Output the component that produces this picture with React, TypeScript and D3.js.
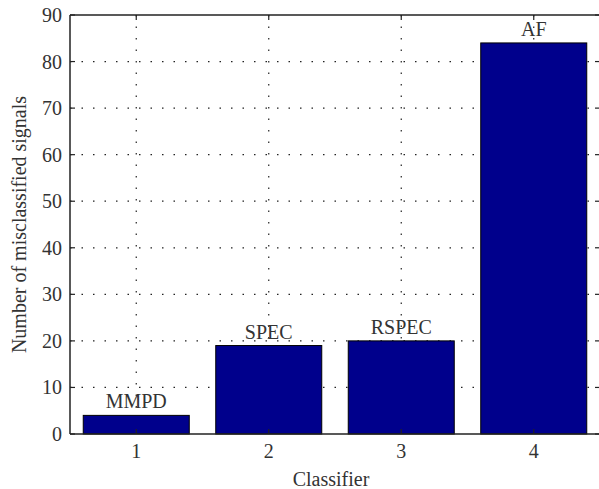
import React from "react";
import * as d3 from "d3";

const categories = [1, 2, 3, 4];
const barLabels = ["MMPD", "SPEC", "RSPEC", "AF"];
const values = [4, 19, 20, 84];
const yTicks = [0, 10, 20, 30, 40, 50, 60, 70, 80, 90];

const W = 599;
const H = 489;
const left = 70;
const right = 600;
const top = 15;
const bottom = 434;
const FONT = "'Liberation Serif', 'Times New Roman', serif";
const TEXT = "#333";
const AX = "#222";

export default function App() {
  const x = d3.scaleLinear().domain([0.5, 4.5]).range([left, right]);
  const y = d3.scaleLinear().domain([0, 90]).range([bottom, top]);
  const bw = x(1.8) - x(1);
  const dash = "1.5 10";
  return (
    <svg
      width={W}
      height={H}
      style={{ position: "absolute", left: 0, top: 0, background: "#fff" }}
      fontFamily={FONT}
    >
      <rect x={0} y={0} width={W} height={H} fill="#fff" />
      {/* grid */}
      {yTicks.slice(1, -1).map((t) => (
        <line key={"gy" + t} x1={left} x2={right} y1={y(t)} y2={y(t)} stroke="#222" strokeWidth={1.2} strokeDasharray={dash} />
      ))}
      {categories.map((c) => (
        <line key={"gx" + c} x1={x(c)} x2={x(c)} y1={top} y2={bottom} stroke="#222" strokeWidth={1.2} strokeDasharray={dash} />
      ))}
      {/* bars */}
      {categories.map((c, i) => (
        <rect
          key={"b" + c}
          x={x(c) - bw / 2}
          y={y(values[i])}
          width={bw}
          height={y(0) - y(values[i])}
          fill="#00008C"
          stroke="#000"
          strokeWidth={1}
        />
      ))}
      {categories.map((c, i) => (
        <text key={"l" + c} x={x(c)} y={y(values[i]) - 7} textAnchor="middle" fontSize={20} fill={TEXT}>
          {barLabels[i]}
        </text>
      ))}
      {/* axes box */}
      <line x1={left} x2={left} y1={top} y2={bottom} stroke={AX} strokeWidth={1.5} />
      <line x1={left} x2={right} y1={bottom} y2={bottom} stroke={AX} strokeWidth={1.5} />
      <line x1={left} x2={right} y1={top} y2={top} stroke={AX} strokeWidth={1.5} />
      <line x1={right} x2={right} y1={top} y2={bottom} stroke={AX} strokeWidth={1.5} />
      {/* ticks */}
      {yTicks.map((t) => (
        <g key={"yt" + t}>
          <line x1={left} x2={left + 5} y1={y(t)} y2={y(t)} stroke={AX} strokeWidth={1.2} />
          <line x1={right - 5} x2={right} y1={y(t)} y2={y(t)} stroke={AX} strokeWidth={1.2} />
          <text x={left - 8} y={y(t)} dy="0.35em" textAnchor="end" fontSize={20} fill={TEXT}>
            {t}
          </text>
        </g>
      ))}
      {categories.map((c) => (
        <g key={"xt" + c}>
          <line x1={x(c)} x2={x(c)} y1={bottom} y2={bottom - 5} stroke={AX} strokeWidth={1.2} />
          <line x1={x(c)} x2={x(c)} y1={top} y2={top + 5} stroke={AX} strokeWidth={1.2} />
          <text x={x(c)} y={458} textAnchor="middle" fontSize={20} fill={TEXT}>
            {c}
          </text>
        </g>
      ))}
      <text x={(left + right) / 2 - 4} y={486} textAnchor="middle" fontSize={20} fill={TEXT}>
        Classifier
      </text>
      <text
        transform={`translate(26, ${(top + bottom) / 2}) rotate(-90)`}
        textAnchor="middle"
        fontSize={20}
        fill={TEXT}
      >
        Number of misclassified signals
      </text>
    </svg>
  );
}
